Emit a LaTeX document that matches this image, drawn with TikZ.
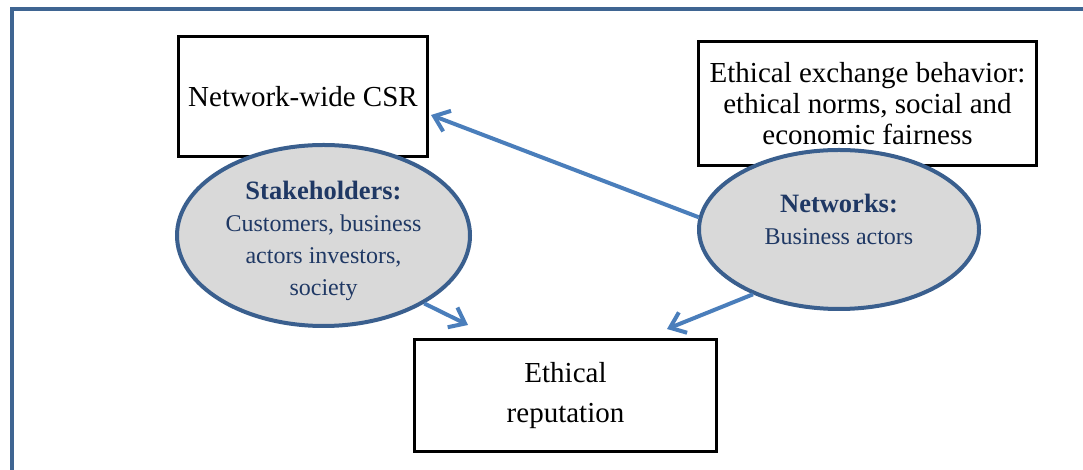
\documentclass[tikz,border=0pt]{standalone}
\usepackage{fontspec}
\setmainfont{Liberation Serif}
\usetikzlibrary{shapes.geometric,arrows.meta}
\definecolor{framecol}{HTML}{3F6592}
\definecolor{ellborder}{HTML}{3A5F8E}
\definecolor{ellfill}{HTML}{D9D9D9}
\definecolor{arrowcol}{HTML}{4A7EBB}
\definecolor{elltext}{HTML}{1F3864}
\newcommand{\ellhead}[1]{{\fontsize{26.5}{32}\selectfont\bfseries #1}}
\tikzset{
  boxnode/.style={draw=black, line width=3pt, inner sep=0pt, align=center,
    font=\fontsize{29}{31}\selectfont},
  ellnode/.style={ellipse, draw=ellborder, fill=ellfill, line width=4pt, inner sep=0pt},
  elllabel/.style={align=center, text=elltext, inner sep=0pt,
    font=\fontsize{24}{32}\selectfont},
  conn/.style={draw=arrowcol, line width=4pt,
    -{Straight Barb[length=14pt,width=22pt,line width=4pt]}}
}
\begin{document}
\begin{tikzpicture}[x=1pt,y=1pt]
\useasboundingbox (0,0) rectangle (1083,470);
\begin{scope}
\clip (0,0) rectangle (1083,470);
\draw[framecol, line width=4pt] (11.5,460.5) rectangle (1110,-20);
\end{scope}

\node[boxnode, minimum width=249pt, minimum height=120pt] (csr) at (303,373.5) {Network-wide CSR};
\node[boxnode, minimum width=338pt, minimum height=124pt] (exch) at (867.5,366.5)
  {Ethical exchange behavior:\\ ethical norms, social and\\ economic fairness};
\node[boxnode, minimum width=302pt, minimum height=112pt, font=\fontsize{29}{40}\selectfont] (rep) at (565.5,74.5)
  {Ethical\\ reputation};

\node[ellnode, minimum width=293pt, minimum height=181pt] (stake) at (323.5,234.5) {};
\node[elllabel] (stakelabel) at (323.5,229)
  {\ellhead{Stakeholders:}\\ Customers, business\\ actors investors,\\ society};

\node[ellnode, minimum width=280pt, minimum height=159pt] (net) at (839,240.5) {};
\node[elllabel] (netlabel) at (839,251)
  {\ellhead{Networks:}\\ Business actors};

\coordinate (tipcsr) at (431,355);
\coordinate (tiprepl) at (468,145);
\coordinate (tiprepr) at (667,141);

\draw[conn] (net.175) -- (tipcsr);
\draw[conn] (stake.-34) -- (tiprepl);
\draw[conn] (net.217) -- (tiprepr);
\end{tikzpicture}
\end{document}
